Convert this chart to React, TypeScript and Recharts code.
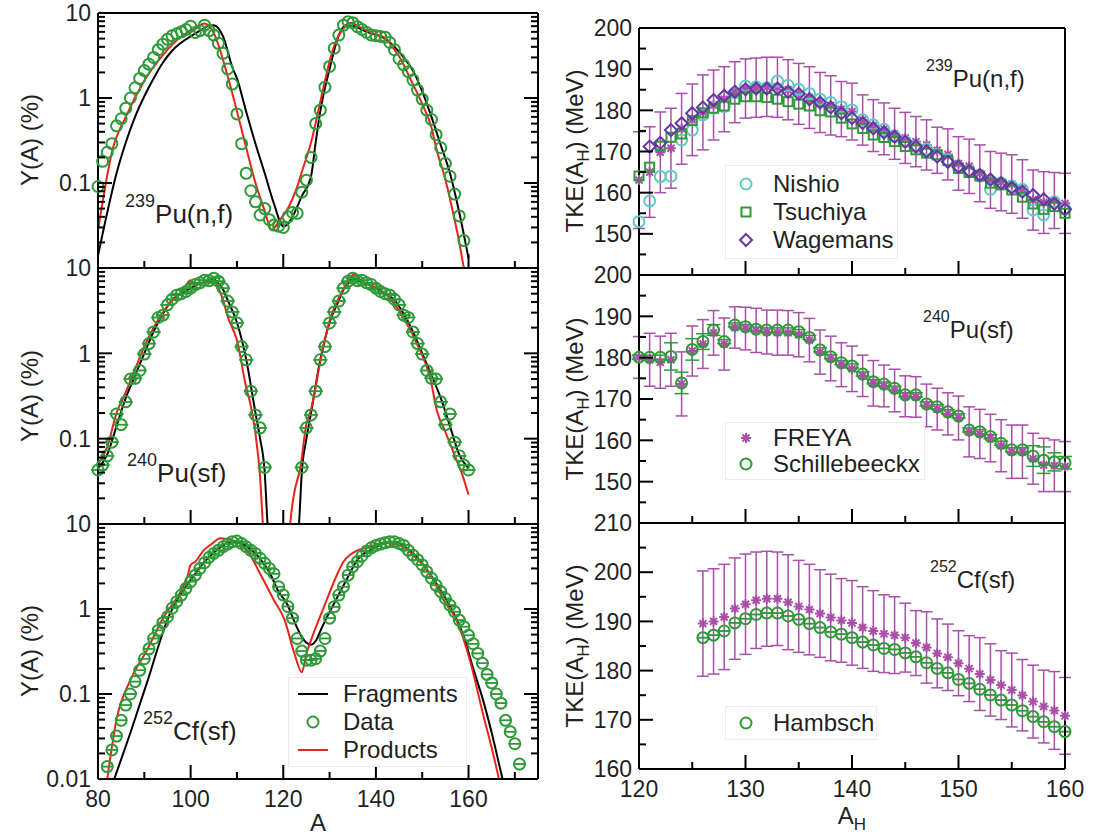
import React from 'react';
import { ComposedChart, Line, Scatter, XAxis, YAxis, ErrorBar, Legend } from 'recharts';

const FONT = '"Liberation Sans", Arial, Helvetica, sans-serif';
const INK = '#231f20';
const GREEN = '#2e9a37';
const CYAN = '#5ecbc2';
const PURPLE = '#6535a5';
const MAGENTA = '#a94ea9';
const RED = '#e8231b';

const span = (a: number, b: number) => Array.from({ length: b - a + 1 }, (_, i) => a + i);

// ---------- Y(A) column ----------
const pu239Mass = span(80, 159);
const pu239Data = [
  0.091, 0.18, 0.23, 0.29, 0.47, 0.57, 0.76, 1.0, 1.32, 1.7,
  2.1, 2.5, 3.0, 3.7, 4.3, 4.9, 5.4, 5.7, 6.0, 6.4,
  7.0, 5.9, 6.2, 7.2, 6.2, 5.5, 4.4, 3.35, 2.2, 1.46,
  0.65, 0.29, 0.13, 0.081, 0.06, 0.042, 0.05, 0.037, 0.032, 0.031,
  0.03, 0.04, 0.045, 0.044, 0.078, 0.108, 0.2, 0.5, 0.72, 1.34,
  2.35, 3.85, 5.5, 7.2, 7.9, 7.7, 6.9, 6.4, 5.9, 5.5,
  5.4, 5.3, 5.2, 4.5, 3.7, 2.9, 2.45, 2.04, 1.63, 1.24,
  0.97, 0.72, 0.56, 0.37, 0.26, 0.17, 0.12, 0.074, 0.041, 0.021,
];
const pu239FragMass = [80, 82, 84, 86, 88, 90, 92, 94, 96, 98, 100, 102, 104, 105, 107, 109, 110, 112, 114, 116, 118, 120, 121, 122, 124, 126, 127, 128, 130, 132, 133.5, 135, 138, 142, 144, 146, 148, 150, 152, 154, 156, 158, 160];
const pu239Frag = [0.014, 0.045, 0.13, 0.3, 0.6, 1.05, 1.7, 2.6, 3.6, 4.5, 5.3, 6.2, 7.1, 7.2, 5.3, 2.3, 1.7, 0.69, 0.29, 0.13, 0.057, 0.031, 0.033, 0.04, 0.07, 0.12, 0.3, 0.7, 2.2, 5.5, 7.2, 7.1, 6.0, 5.0, 4.0, 3.0, 2.1, 1.2, 0.6, 0.28, 0.13, 0.045, 0.013];
const pu239ProdMass = [80, 81, 83, 86, 90, 94, 98, 101, 103, 104, 105, 106, 108, 110, 112, 114, 116, 117.5, 119, 121, 123, 124, 126, 128, 129, 131, 133, 134.5, 137, 140, 142, 144, 145, 147.5, 150, 152, 153, 155, 156, 158, 159, 160];
const pu239Prod = [0.028, 0.06, 0.23, 0.6, 1.6, 3.2, 5.3, 6.5, 7.5, 7.0, 5.8, 4.2, 1.8, 0.7, 0.26, 0.1, 0.047, 0.028, 0.035, 0.05, 0.09, 0.135, 0.3, 0.9, 1.6, 4.1, 6.6, 7.7, 6.6, 5.6, 5.1, 3.7, 3.1, 1.65, 0.85, 0.45, 0.26, 0.11, 0.065, 0.02, 0.01, 0.006];

const pu240Mass = [...span(80, 116), ...span(124, 160)];
const pu240Data = [
  0.043, 0.049, 0.063, 0.091, 0.195, 0.146, 0.27, 0.5, 0.51, 0.63,
  0.98, 1.3, 1.78, 2.63, 2.8, 3.7, 4.3, 4.8, 5.0, 5.3,
  5.8, 6.4, 6.7, 7.2, 7.1, 7.6, 7.0, 5.8, 4.1, 3.06,
  2.27, 1.2, 0.84, 0.36, 0.19, 0.134, 0.046,
  0.046, 0.134, 0.19, 0.36, 0.84, 1.2, 2.27, 3.06, 4.1, 5.8,
  7.0, 7.6, 7.1, 7.2, 6.7, 6.4, 5.8, 5.3, 5.0, 4.8,
  4.3, 3.7, 2.8, 2.63, 1.78, 1.3, 0.98, 0.63, 0.51, 0.5,
  0.27, 0.146, 0.195, 0.091, 0.063, 0.049, 0.043,
];
const pu240FragMass = [80, 82, 84, 86, 88, 90, 92, 94, 96, 98, 100, 102, 104, 105, 106, 107, 108, 110, 112, 114, 115, 116, 116.6, 117.2, 122.8, 123.4, 124, 125, 126, 128, 130, 132, 133, 134, 135, 136, 138, 140, 142, 144, 146, 148, 150, 152, 154, 156, 158, 160];
const pu240Frag = [0.045, 0.065, 0.14, 0.3, 0.55, 1.0, 1.8, 2.9, 4.2, 5.0, 5.8, 6.6, 7.1, 7.4, 6.6, 5.6, 4.2, 2.3, 0.85, 0.2, 0.1, 0.04, 0.01, 0.004, 0.004, 0.01, 0.04, 0.1, 0.2, 0.85, 2.3, 4.2, 5.6, 6.6, 7.4, 7.1, 6.6, 5.8, 5.0, 4.2, 2.9, 1.8, 1.0, 0.55, 0.3, 0.14, 0.065, 0.045];
const pu240ProdMass = [80, 82, 84, 86, 88, 90, 92, 94, 96, 98, 100, 101, 103, 105, 106, 107, 108, 110, 112, 113, 114, 115, 115.6, 116.2, 121, 121.5, 122.3, 123.7, 125, 126, 128, 130, 132, 134, 135.2, 137, 140, 142, 144, 146, 149, 151.7, 153.2, 155, 157.5, 158.5, 160];
const pu240Prod = [0.05, 0.08, 0.2, 0.35, 0.65, 1.2, 2.0, 3.0, 4.2, 5.2, 7.2, 6.4, 6.8, 7.0, 5.8, 4.2, 2.7, 1.42, 0.4, 0.24, 0.115, 0.035, 0.01, 0.004, 0.004, 0.01, 0.022, 0.046, 0.15, 0.22, 0.8, 2.4, 4.5, 7.0, 8.4, 7.0, 5.8, 5.0, 3.8, 2.6, 1.24, 0.52, 0.21, 0.12, 0.055, 0.04, 0.022];

const cf252Mass = span(82, 171);
const cf252Data = [
  0.014, 0.022, 0.032, 0.049, 0.074, 0.1, 0.14, 0.19, 0.26, 0.34,
  0.45, 0.56, 0.69, 0.81, 1.02, 1.22, 1.46, 1.75, 2.1, 2.5,
  3.0, 3.5, 4.06, 4.5, 4.9, 5.4, 5.8, 6.2, 6.3, 5.9,
  5.4, 4.9, 4.5, 3.95, 3.45, 3.0, 2.6, 1.83, 1.46, 1.07,
  0.78, 0.45,
  0.32, 0.25, 0.25, 0.26, 0.32, 0.45, 0.78, 1.06, 1.46, 1.83,
  2.5, 3.15, 3.6, 4.2, 4.8, 5.25, 5.6, 5.8, 6.0, 6.2,
  6.2, 5.9, 5.6, 4.9, 4.3, 3.8, 3.3, 2.75, 2.3, 1.9,
  1.6, 1.33, 1.11, 0.93, 0.74, 0.62, 0.49, 0.39, 0.3, 0.23,
  0.17, 0.135, 0.1, 0.078, 0.049, 0.036, 0.026, 0.015,
];
const cf252FragMass = [83.5, 85, 87, 89, 91, 93, 95, 97, 99, 101, 103, 105, 107, 109, 111, 113, 115, 117, 119, 121, 122, 123, 124, 125, 126, 127, 128, 129, 131, 134, 136, 139, 141, 143, 145, 147, 149, 151, 153, 155, 157, 159, 161, 163, 165, 167, 168];
const cf252Frag = [0.01, 0.017, 0.035, 0.075, 0.16, 0.36, 0.75, 1.25, 1.85, 2.6, 3.6, 4.6, 5.6, 6.1, 5.9, 5.0, 3.9, 2.7, 1.6, 1.1, 0.8, 0.6, 0.47, 0.4, 0.38, 0.42, 0.55, 0.72, 1.17, 2.4, 3.8, 5.0, 5.7, 6.1, 5.9, 5.0, 4.0, 2.9, 2.0, 1.35, 0.85, 0.47, 0.2, 0.09, 0.035, 0.012, 0.007];
const cf252ProdMass = [82, 84, 87, 90.6, 94.2, 97.8, 99.3, 100, 101, 102.8, 104.5, 106.4, 108, 110, 112, 115, 118, 120.3, 122.4, 124, 125, 126, 128.8, 131.7, 133, 134.6, 136, 139, 141.8, 143, 146, 148, 150, 152.4, 154.6, 157.4, 160.3, 163.1, 165.3, 166.4, 167.5];
const cf252Prod = [0.01, 0.05, 0.146, 0.33, 0.81, 1.6, 2.4, 3.3, 3.6, 4.9, 5.8, 6.8, 6.6, 6.2, 5.1, 2.6, 1.27, 0.74, 0.3, 0.18, 0.3, 0.43, 1.06, 2.6, 3.6, 4.4, 4.9, 5.4, 6.1, 5.9, 5.4, 4.3, 3.4, 2.2, 1.28, 0.74, 0.25, 0.059, 0.02, 0.011, 0.006];

// ---------- TKE column ----------
const heavyMass = span(120, 160);
const nishio = [
  152.95, 158.0, 163.9, 164.0, 172.8, 175.2, 178.9, 180.5, 180.9, 184.3,
  185.9, 185.7, 185.5, 187.1, 186.1, 185.1, 184.1, 182.7, 181.9, 180.9,
  180.1, 177.7, 176.5, 175.4, 173.6, 172.4, 171.2, 170.6, 169.2, 168.0,
  166.0, 165.2, 164.0, 160.8, 162.4, 161.6, 160.8, 155.8, 154.6, 157.8,
  156.0,
];
const tsuchiya = [
  164.05, 166.2, 171.3, 173.45, 174.25, 177.5, 179.4, 180.5, 181.05, 182.7,
  183.3, 183.3, 183.1, 182.7, 182.1, 181.5, 181.05, 179.9, 179.6, 178.1,
  176.7, 175.6, 174.0, 173.4, 172.4, 171.2, 170.4, 169.6, 169.2, 167.8,
  165.9, 164.9, 164.05, 162.3, 161.9, 160.65, 158.9, 157.25, 155.95, 156.6,
  155.0,
];
const wagemansMass = span(121, 160);
const wagemans = [
  171.2, 172.1, 175.2, 176.85, 179.3, 180.7, 182.5, 183.55, 184.5, 185.1,
  185.3, 185.3, 185.3, 184.5, 184.0, 182.7, 181.9, 180.7, 179.3, 178.1,
  176.9, 175.6, 174.6, 173.6, 172.4, 171.2, 170.0, 168.75, 167.5, 166.3,
  165.25, 164.3, 163.2, 162.3, 161.2, 160.25, 159.45, 158.4, 157.3, 155.95,
];
const freyaPu239 = [
  163.05, 165.0, 169.8, 170.8, 175.5, 177.7, 179.5, 181.3, 182.7, 184.4,
  185.3, 185.5, 185.7, 185.6, 185.0, 184.0, 183.1, 181.9, 181.2, 180.3,
  179.7, 177.65, 176.3, 175.5, 174.3, 173.3, 172.4, 171.6, 170.3, 169.3,
  167.1, 166.4, 164.7, 163.1, 162.6, 162.1, 160.9, 158.2, 157.6, 158.1,
  157.4,
];
const freyaPu239Err = [
  11.75, 11.0, 9.8, 9.7, 8.6, 8.7, 9.1, 8.5, 7.9, 7.4,
  7.2, 7.2, 7.2, 7.3, 7.3, 7.4, 7.5, 7.3, 7.2, 6.7,
  6.9, 6.1, 6.3, 6.3, 6.2, 6.2, 6.1, 6.1, 5.6, 6.2,
  6.5, 6.6, 6.9, 6.9, 7.0, 7.1, 7.1, 7.3, 7.5, 6.8,
  7.3,
];
const schillebeeckx = [
  180.1, 180.1, 180.1, 180.3, 173.9, 182.0, 183.9, 186.7, 183.9, 187.9,
  187.5, 186.9, 186.7, 186.7, 186.7, 186.3, 184.9, 181.9, 180.25, 178.8,
  178.0, 176.05, 174.2, 173.6, 172.6, 171.0, 171.0, 168.8, 168.1, 166.9,
  165.9, 162.5, 162.1, 160.9, 159.3, 157.7, 157.7, 156.2, 155.2, 154.8,
  154.6,
];
const schillebeeckxErr = [
  0.5, 0.5, 0.5, 3.3, 2.6, 2.6, 1.9, 1.3, 0.5, 0.5,
  0.5, 0.5, 0.5, 0.5, 0.5, 0.5, 0.5, 0.5, 0.5, 0.5,
  0.5, 0.5, 0.5, 0.5, 0.5, 0.5, 0.5, 0.5, 0.5, 0.5,
  0.5, 0.5, 0.5, 0.5, 0.5, 0.5, 0.5, 2.5, 3.2, 2.2,
  1.5,
];
const freyaPu240 = [
  180.05, 179.5, 178.9, 179.5, 173.65, 181.6, 183.3, 186.0, 183.3, 187.3,
  187.05, 186.6, 186.2, 186.05, 186.0, 185.55, 184.25, 181.35, 179.8, 178.3,
  177.3, 175.6, 173.8, 173.15, 172.05, 170.65, 170.5, 168.45, 167.55, 166.4,
  165.4, 162.05, 161.55, 160.55, 158.7, 157.25, 157.25, 155.55, 154.05, 153.85,
  153.65,
];
const freyaPu240Err = [
  5.05, 6.4, 6.3, 6.4, 7.75, 6.05, 5.9, 5.4, 6.3, 5.0,
  5.15, 5.35, 5.3, 5.45, 5.4, 5.35, 5.25, 5.35, 5.4, 5.3,
  5.5, 5.0, 5.5, 5.05, 5.15, 4.95, 4.9, 5.15, 5.05, 5.1,
  5.3, 6.05, 5.95, 5.75, 6.3, 6.45, 6.45, 6.15, 6.45, 6.25,
  6.05,
];
const cfHeavyMass = span(126, 160);
const hambsch = [
  186.7, 187.2, 188.05, 189.7, 190.55, 191.4, 191.7, 191.7, 191.1, 190.4,
  189.55, 188.75, 187.85, 187.4, 186.7, 185.8, 185.2, 184.5, 184.3, 183.6,
  182.8, 181.6, 180.45, 179.55, 178.2, 177.4, 176.2, 175.05, 174.0, 173.0,
  171.85, 170.65, 169.6, 168.6, 167.6,
];
const freyaCf252 = [
  189.55, 190.0, 190.9, 192.6, 193.5, 194.3, 194.6, 194.6, 193.9, 193.05,
  192.4, 191.6, 190.8, 190.2, 189.7, 188.75, 188.05, 187.5, 187.2, 186.7,
  185.6, 184.7, 183.5, 182.7, 181.5, 180.4, 179.3, 178.1, 177.05, 176.05,
  175.0, 173.7, 172.7, 171.9, 170.8,
];
const freyaCf252Err = [
  10.7, 10.7, 10.7, 10.3, 10.2, 9.8, 9.65, 9.5, 9.65, 9.35,
  9.2, 8.9, 8.8, 8.5, 8.6, 8.3, 8.2, 7.9, 7.8, 7.0,
  6.6, 7.25, 7.0, 6.75, 6.6, 6.7, 7.4, 7.35, 7.0, 7.5,
  7.25, 7.4, 7.4, 7.9, 7.8,
];

// ---------- ticks ----------
const yieldTicks = [0.01, 0.02, 0.03, 0.04, 0.05, 0.06, 0.07, 0.08, 0.09, 0.1, 0.2, 0.3, 0.4, 0.5, 0.6, 0.7, 0.8, 0.9, 1, 2, 3, 4, 5, 6, 7, 8, 9, 10];
const yieldMajor = [0.01, 0.1, 1, 10];
const massTicks = [80, 90, 100, 110, 120, 130, 140, 150, 160, 170];
const massMajor = [80, 100, 120, 140, 160];
const tkeTicks = [140, 145, 150, 155, 160, 165, 170, 175, 180, 185, 190, 195, 200];
const tkeMajor = [140, 150, 160, 170, 180, 190, 200];
const tkeCfTicks = [160, 165, 170, 175, 180, 185, 190, 195, 200, 205, 210];
const tkeCfMajor = [160, 170, 180, 190, 200, 210];
const heavyTicks = [120, 125, 130, 135, 140, 145, 150, 155, 160];
const heavyMajor = [120, 130, 140, 150, 160];

// points without a measured error get a vanishing one, so the bar caps draw a line through the ring
const pts = (xs: number[], ys: number[], es?: number[]) =>
  xs.map((A, i) => ({ A, y: ys[i], e: es ? es[i] : 1e-6 }));

type Spec = { domain: [number, number]; ticks: number[]; major: number[]; labels: number[] };
type Side = 'left' | 'right' | 'top' | 'bottom';

function makeTick(side: Side, spec: Spec) {
  return (p: any) => {
    const v = p.payload.value as number;
    const len = spec.major.includes(v) ? 14 : 7;
    const { x, y } = p;
    const d =
      side === 'left' ? `M${x},${y}h${len}` :
      side === 'right' ? `M${x},${y}h${-len}` :
      side === 'bottom' ? `M${x},${y}v${-len}` : `M${x},${y}v${len}`;
    const show = spec.labels.includes(v);
    return (
      <g>
        <path d={d} stroke="#000" strokeWidth={2} />
        {show && side === 'left' && (
          <text x={x - 7} y={y} dy="0.36em" textAnchor="end" fontFamily={FONT} fontSize={23} fill={INK}>{String(v)}</text>
        )}
        {show && side === 'bottom' && (
          <text x={x} y={y + 28} textAnchor="middle" fontFamily={FONT} fontSize={23} fill={INK}>{String(v)}</text>
        )}
      </g>
    );
  };
}

const AXIS = { stroke: '#000', strokeWidth: 2 };
const PAD_T = 20;
const PAD_R = 24;
const bare = (s: Spec): Spec => ({ ...s, labels: [] });

type PanelProps = {
  left: number; top: number; w: number; h: number; padL: number; padB: number;
  xs: Spec; ys: Spec; log?: boolean; topTicks?: boolean;
  overlay?: React.ReactNode; children?: React.ReactNode;
};

function Panel({ left, top, w, h, padL, padB, xs, ys, log, topTicks, overlay, children }: PanelProps) {
  const scale = log ? 'log' : 'linear';
  return (
    <div style={{ position: 'absolute', left: left - padL, top: top - PAD_T }}>
      <ComposedChart width={padL + w + PAD_R} height={PAD_T + h + padB} margin={{ top: 0, right: 0, bottom: 0, left: 0 }}>
        <XAxis dataKey="A" type="number" domain={xs.domain} ticks={xs.ticks} interval={0} height={padB}
          axisLine={AXIS} tickLine={false} tickSize={0} tickMargin={0} tick={makeTick('bottom', xs)} />
        <XAxis xAxisId="t" orientation="top" dataKey="A" type="number" domain={xs.domain} ticks={xs.ticks} interval={0} height={PAD_T}
          axisLine={AXIS} tickLine={false} tickSize={0} tickMargin={0} tick={topTicks ? makeTick('top', bare(xs)) : false} />
        <YAxis type="number" scale={scale} domain={ys.domain} allowDataOverflow={!!log} ticks={ys.ticks} interval={0} width={padL}
          axisLine={AXIS} tickLine={false} tickSize={0} tickMargin={0} tick={makeTick('left', ys)} />
        <YAxis yAxisId="r" orientation="right" type="number" scale={scale} domain={ys.domain} ticks={ys.ticks} interval={0} width={PAD_R}
          axisLine={AXIS} tickLine={false} tickSize={0} tickMargin={0} tick={makeTick('right', bare(ys))} />
        {children}
        <g transform={`translate(${padL - left},${PAD_T - top})`}>{overlay}</g>
      </ComposedChart>
    </div>
  );
}

// ---------- markers ----------
const ring = (c: string) => (p: any) => <circle cx={p.cx} cy={p.cy} r={5.5} fill="none" stroke={c} strokeWidth={2} />;
const box = (c: string) => (p: any) => <rect x={p.cx - 4.5} y={p.cy - 4.5} width={9} height={9} fill="none" stroke={c} strokeWidth={2} />;
const diamond = (c: string) => (p: any) => (
  <path d={`M${p.cx},${p.cy - 6}L${p.cx + 6},${p.cy}L${p.cx},${p.cy + 6}L${p.cx - 6},${p.cy}Z`} fill="none" stroke={c} strokeWidth={2} />
);
const asterisk = (c: string) => (p: any) => (
  <path d={`M${p.cx - 5},${p.cy}h10M${p.cx},${p.cy - 5}v10M${p.cx - 3.5},${p.cy - 3.5}l7,7M${p.cx - 3.5},${p.cy + 3.5}l7,-7`} stroke={c} strokeWidth={2} />
);

type Row = { label: string; icon: (cx: number, cy: number) => React.ReactNode };
const lineIcon = (c: string) => (cx: number, cy: number) => <line x1={cx - 15} y1={cy} x2={cx + 15} y2={cy} stroke={c} strokeWidth={2} />;
const markIcon = (f: (p: any) => React.ReactNode) => (cx: number, cy: number) => f({ cx, cy });

function LegendBox({ rows, width, iconW, rowH, pad }: { rows: Row[]; width: number; iconW: number; rowH: number; pad: number }) {
  return (
    <div style={{ width, boxSizing: 'border-box', background: '#fff', border: '1px solid #ececec', padding: `${pad}px 0`, fontFamily: FONT, fontSize: 24, color: INK }}>
      {rows.map((r) => (
        <div key={r.label} style={{ display: 'flex', alignItems: 'center', height: rowH, lineHeight: `${rowH}px` }}>
          <svg width={iconW} height={rowH} style={{ flex: 'none' }}>{r.icon(iconW === 54 ? 24 : 20, rowH / 2)}</svg>
          <span>{r.label}</span>
        </div>
      ))}
    </div>
  );
}

function Tag({ x, y, iso, rest, big, small }: { x: number; y: number; iso: string; rest: string; big: number; small: number }) {
  return (
    <text x={x} y={y} fontFamily={FONT} fill={INK}>
      <tspan fontSize={small} dy={-16}>{iso}</tspan>
      <tspan fontSize={big} dy={16}>{rest}</tspan>
    </text>
  );
}

const yTitle = (cy: number) => (
  <text transform={`translate(38,${cy}) rotate(-90)`} textAnchor="middle" fontFamily={FONT} fontSize={24} fill={INK}>Y(A) (%)</text>
);
const tkeTitle = (cy: number) => (
  <text transform={`translate(583,${cy}) rotate(-90)`} textAnchor="middle" fontFamily={FONT} fontSize={24} fill={INK}>
    TKE(A<tspan fontSize={17} dy={6}>H</tspan><tspan dy={-6}>) (MeV)</tspan>
  </text>
);

const L = { left: 98, w: 440, padL: 98 };
const R = { left: 639, w: 426, padL: 99 };
const massX = (labels: boolean): Spec => ({ domain: [80, 175], ticks: massTicks, major: massMajor, labels: labels ? massMajor : [] });
const yieldY = (labels: number[]): Spec => ({ domain: [0.01, 10], ticks: yieldTicks, major: yieldMajor, labels });
const heavyX = (labels: boolean): Spec => ({ domain: [120, 160], ticks: heavyTicks, major: heavyMajor, labels: labels ? heavyMajor : [] });
const tkeY: Spec = { domain: [140, 200], ticks: tkeTicks, major: tkeMajor, labels: [150, 160, 170, 180, 190, 200] };
const tkeCfY: Spec = { domain: [160, 210], ticks: tkeCfTicks, major: tkeCfMajor, labels: tkeCfMajor };

const yieldSeries = (fm: number[], fy: number[], pm: number[], py: number[], dm: number[], dy: number[], cap: number) => [
  <Line key="f" data={pts(fm, fy)} dataKey="y" name="Fragments" type="monotone" stroke="#000" strokeWidth={2} dot={false} isAnimationActive={false} />,
  <Line key="p" data={pts(pm, py)} dataKey="y" name="Products" type="monotone" stroke={RED} strokeWidth={2} dot={false} isAnimationActive={false} />,
  <Scatter key="d" data={pts(dm, dy)} dataKey="y" name="Data" yAxisId="r" shape={ring(GREEN)} isAnimationActive={false}>
    {cap > 0 && <ErrorBar dataKey="e" direction="y" width={cap} stroke={GREEN} strokeWidth={1.5} />}
  </Scatter>,
];

export default function App() {
  return (
    <div style={{ position: 'absolute', left: 0, top: 0, width: 1094, height: 837, background: '#fff' }}>
      <Panel {...L} top={13} h={255} padB={10} xs={massX(false)} ys={yieldY([10, 1, 0.1])} log
        overlay={<>{yTitle(140)}<Tag x={125} y={223} iso="239" rest="Pu(n,f)" big={26} small={18} /></>}>
        {yieldSeries(pu239FragMass, pu239Frag, pu239ProdMass, pu239Prod, pu239Mass, pu239Data, 0)}
      </Panel>
      <Panel {...L} top={268} h={256} padB={10} xs={massX(false)} ys={yieldY([10, 1, 0.1])} log
        overlay={<>{yTitle(396)}<Tag x={127} y={482} iso="240" rest="Pu(sf)" big={26} small={18} /></>}>
        {yieldSeries(pu240FragMass, pu240Frag, pu240ProdMass, pu240Prod, pu240Mass, pu240Data, 7)}
      </Panel>
      <Panel {...L} top={524} h={255} padB={58} xs={massX(true)} ys={yieldY([10, 1, 0.1, 0.01])} log
        overlay={<>
          {yTitle(651)}
          <Tag x={143} y={740} iso="252" rest="Cf(sf)" big={26} small={18} />
          <text x={318} y={831} textAnchor="middle" fontFamily={FONT} fontSize={24} fill={INK}>A</text>
        </>}>
        {yieldSeries(cf252FragMass, cf252Frag, cf252ProdMass, cf252Prod, cf252Mass, cf252Data, 6)}
        <Legend layout="vertical" align="center" verticalAlign="middle" width={179}
          wrapperStyle={{ left: 288, top: 677 - 524 + PAD_T }}
          content={() => (
            <LegendBox width={179} iconW={54} rowH={28} pad={2} rows={[
              { label: 'Fragments', icon: lineIcon('#000') },
              { label: 'Data', icon: markIcon(ring(GREEN)) },
              { label: 'Products', icon: lineIcon(RED) },
            ]} />
          )} />
      </Panel>

      <Panel {...R} top={28} h={247} padB={10} xs={heavyX(false)} ys={tkeY} topTicks
        overlay={<>{tkeTitle(151)}<Tag x={926} y={87} iso="239" rest="Pu(n,f)" big={24} small={16} /></>}>
        <Scatter data={pts(heavyMass, freyaPu239, freyaPu239Err)} dataKey="y" name="FREYA" shape={asterisk(MAGENTA)} isAnimationActive={false}>
          <ErrorBar dataKey="e" direction="y" width={6} stroke={MAGENTA} strokeWidth={1.5} />
        </Scatter>
        <Scatter data={pts(heavyMass, nishio)} dataKey="y" name="Nishio" shape={ring(CYAN)} isAnimationActive={false} />
        <Scatter data={pts(heavyMass, tsuchiya)} dataKey="y" name="Tsuchiya" shape={box(GREEN)} isAnimationActive={false} />
        <Scatter data={pts(wagemansMass, wagemans)} dataKey="y" name="Wagemans" shape={diamond(PURPLE)} isAnimationActive={false} />
        <Legend layout="vertical" align="center" verticalAlign="middle" width={173}
          wrapperStyle={{ left: 725 - 540, top: 165 - 28 + PAD_T }}
          content={() => (
            <LegendBox width={173} iconW={47} rowH={28} pad={4} rows={[
              { label: 'Nishio', icon: markIcon(ring(CYAN)) },
              { label: 'Tsuchiya', icon: markIcon(box(GREEN)) },
              { label: 'Wagemans', icon: markIcon(diamond(PURPLE)) },
            ]} />
          )} />
      </Panel>
      <Panel {...R} top={275} h={248} padB={10} xs={heavyX(false)} ys={tkeY} topTicks
        overlay={<>{tkeTitle(399)}<Tag x={923} y={338} iso="240" rest="Pu(sf)" big={24} small={16} /></>}>
        <Scatter data={pts(heavyMass, freyaPu240, freyaPu240Err)} dataKey="y" name="FREYA" shape={asterisk(MAGENTA)} isAnimationActive={false}>
          <ErrorBar dataKey="e" direction="y" width={6} stroke={MAGENTA} strokeWidth={1.5} />
        </Scatter>
        <Scatter data={pts(heavyMass, schillebeeckx, schillebeeckxErr)} dataKey="y" name="Schillebeeckx" shape={ring(GREEN)} isAnimationActive={false}>
          <ErrorBar dataKey="e" direction="y" width={7} stroke={GREEN} strokeWidth={1.5} />
        </Scatter>
        <Legend layout="vertical" align="center" verticalAlign="middle" width={200}
          wrapperStyle={{ left: 725 - 540, top: 422 - 275 + PAD_T }}
          content={() => (
            <LegendBox width={200} iconW={47} rowH={26} pad={2} rows={[
              { label: 'FREYA', icon: markIcon(asterisk(MAGENTA)) },
              { label: 'Schillebeeckx', icon: markIcon(ring(GREEN)) },
            ]} />
          )} />
      </Panel>
      <Panel {...R} top={523} h={246} padB={68} xs={heavyX(true)} ys={tkeCfY} topTicks
        overlay={<>
          {tkeTitle(646)}
          <Tag x={930} y={588} iso="252" rest="Cf(sf)" big={24} small={16} />
          <text x={852} y={824} textAnchor="middle" fontFamily={FONT} fontSize={24} fill={INK}>
            A<tspan fontSize={17} dy={6}>H</tspan>
          </text>
        </>}>
        <Scatter data={pts(cfHeavyMass, freyaCf252, freyaCf252Err)} dataKey="y" name="FREYA" shape={asterisk(MAGENTA)} isAnimationActive={false}>
          <ErrorBar dataKey="e" direction="y" width={6} stroke={MAGENTA} strokeWidth={1.5} />
        </Scatter>
        <Scatter data={pts(cfHeavyMass, hambsch)} dataKey="y" name="Hambsch" shape={ring(GREEN)} isAnimationActive={false}>
          <ErrorBar dataKey="e" direction="y" width={5} stroke={GREEN} strokeWidth={1.5} />
        </Scatter>
        <Legend layout="vertical" align="center" verticalAlign="middle" width={152}
          wrapperStyle={{ left: 725 - 540, top: 706 - 523 + PAD_T }}
          content={() => (
            <LegendBox width={152} iconW={47} rowH={28} pad={2} rows={[
              { label: 'Hambsch', icon: markIcon(ring(GREEN)) },
            ]} />
          )} />
      </Panel>
    </div>
  );
}
